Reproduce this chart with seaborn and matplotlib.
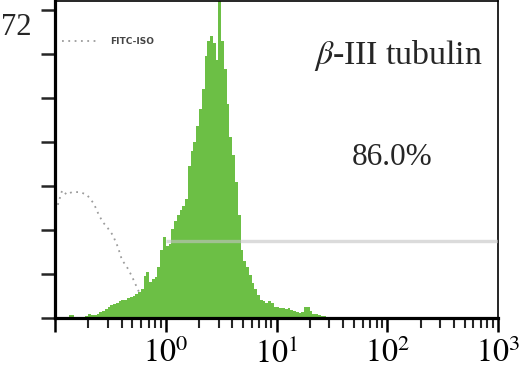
import numpy as np
import pandas as pd
import matplotlib
matplotlib.use("Agg")
import matplotlib.pyplot as plt
import seaborn as sns
from matplotlib.ticker import LogLocator, NullFormatter
import matplotlib.transforms as mtransforms

# ---------------- data ----------------
# histogram bins: log10 edges from -0.9 to 1.5, width 0.025
log_lo, log_hi, n_bins = -0.9, 1.5, 96
beta3_counts = [
    0, 0.7, 0.7, 0.3, 0.2, 0.3, 0.2, 0.4, 0.8, 0.6,
    0.7, 1.0, 1.3, 1.6, 2.0, 2.6, 2.9, 3.1, 3.5, 3.8,
    4.1, 4.0, 4.5, 4.8, 4.9, 5.5, 5.9, 6.5, 9.5, 10.5,
    8.2, 8.8, 9.3, 11.5, 15.5, 18.5, 16.3, 16.8, 20.2, 22.0,
    23.3, 24.5, 25.5, 27.0, 34.5, 38.0, 40.0, 43.5, 47.5, 52.0,
    59.5, 63.0, 64.0, 62.5, 58.5, 74.0, 63.0, 56.5, 48.5, 41.0,
    37.0, 31.0, 23.5, 15.5, 13.0, 11.5, 9.8, 8.0, 6.5, 5.2,
    4.2, 3.8, 3.4, 3.8, 3.5, 2.6, 2.6, 2.3, 2.2, 2.0,
    2.2, 1.8, 1.5, 1.3, 1.2, 1.4, 2.4, 2.5, 1.6, 1.0,
    0.8, 0.7, 0.5, 0.4, 0, 0,
]
iso_x = [0.106, 0.116, 0.128, 0.142, 0.168, 0.194, 0.224, 0.249, 0.270, 0.300,
         0.333, 0.370, 0.402, 0.446, 0.494, 0.548, 0.608, 0.675, 0.748, 0.830]
iso_y = [25.7, 29.0, 28.0, 28.6, 28.6, 28.0, 26.0, 23.4, 21.8, 20.4,
         18.8, 16.1, 13.2, 11.6, 9.5, 7.0, 4.5, 2.7, 1.4, 0.5]
gate_level = 17.5
gate_range = (1.0, 1000.0)
xtick_vals = [0.1, 1, 10, 100, 1000]
xtick_labels = ["", r"$10^{0}$", r"$10^{1}$", r"$10^{2}$", r"$10^{3}$"]
ytick_vals = [0, 10, 20, 30, 40, 50, 60, 70]
ymax_label = "72"
marker_name = r"$\beta$-III tubulin"
marker_pct = "86.0%"

# ---------------- plot ----------------
sns.set_theme(style="white")
plt.rcParams["font.family"] = ["Liberation Serif", "DejaVu Serif"]
plt.rcParams["mathtext.fontset"] = "stix"

fig = plt.figure(figsize=(5.21, 3.85), dpi=100)
ax = fig.add_axes([55 / 521, 1 - 318 / 385, 443 / 521, 317 / 385])

log_edges = np.linspace(log_lo, log_hi, n_bins + 1)
edges = (10 ** log_edges).tolist()
centers = 10 ** ((log_edges[:-1] + log_edges[1:]) / 2)
df = pd.DataFrame({"x": centers, "w": beta3_counts})

green = "#6cbf45"
sns.histplot(data=df, x="x", weights="w", bins=edges, stat="count",
             element="bars", fill=True, color=green, alpha=1.0, shrink=1,
             linewidth=0, antialiased=False, ax=ax, zorder=2)

iso = pd.DataFrame({"x": iso_x, "y": iso_y})
sns.lineplot(data=iso, x="x", y="y", color="#9c9c9c", linestyle=(0, (1, 2.5)),
             linewidth=1.3, ax=ax, label="FITC-ISO", zorder=1)

ax.hlines(gate_level, gate_range[0], gate_range[1], color="#c4c4c4",
          alpha=0.6, linewidth=2.4, zorder=3)

ax.set_xscale("log")
ax.set_xlim(0.1, 1000)
ax.set_ylim(0, 72)
ax.set_xlabel("")
ax.set_ylabel("")

ax.set_xticks(xtick_vals)
ax.set_xticklabels(xtick_labels)
ax.xaxis.set_minor_locator(LogLocator(base=10, subs=np.arange(2, 10)))
ax.xaxis.set_minor_formatter(NullFormatter())
ax.set_yticks(ytick_vals)
ax.set_yticklabels([])

ax.tick_params(axis="x", which="major", direction="out", length=10, width=1.8,
               labelsize=23, pad=5, bottom=True, colors="black")
ax.tick_params(axis="x", which="minor", direction="out", length=7, width=1.5,
               bottom=True)
ax.tick_params(axis="y", which="major", direction="out", length=10, width=1.8,
               left=True)

for side in ["left", "bottom"]:
    ax.spines[side].set_linewidth(2.3)
    ax.spines[side].set_color("black")
for side in ["top", "right"]:
    ax.spines[side].set_linewidth(1.2)
    ax.spines[side].set_color("black")
    ax.spines[side].set_visible(True)

trans = mtransforms.blended_transform_factory(ax.transAxes, ax.transData)
ax.text(-0.052, 65.9, ymax_label, transform=trans, ha="right", va="center",
        fontsize=22)

ax.text(0.775, 0.828, marker_name, transform=ax.transAxes, ha="center",
        va="center", fontsize=24.5)
ax.text(0.760, 0.505, marker_pct, transform=ax.transAxes, ha="center",
        va="center", fontsize=22.5)

leg = ax.legend(loc="center left", bbox_to_anchor=(0.016, 0.871), frameon=False,
                handlelength=4.0, handletextpad=1.3, borderaxespad=0,
                borderpad=0,
                prop={"family": "DejaVu Sans", "size": 6.5, "weight": "bold"})
for t in leg.get_texts():
    t.set_color("#444444")

fig.savefig("out.png", dpi=100)
